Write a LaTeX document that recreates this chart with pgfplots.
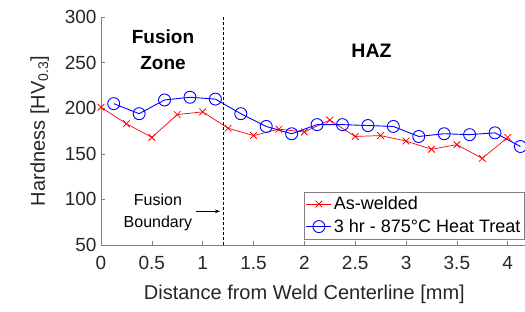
\documentclass[border=0pt]{standalone}
\usepackage{pgfplots}
\pgfplotsset{compat=1.18}
\usepackage{fontspec}
\setmainfont{Liberation Sans}
\usetikzlibrary{arrows.meta}
\definecolor{axgray}{RGB}{128,128,128}
\definecolor{txt}{RGB}{38,38,38}
\begin{document}
\begin{tikzpicture}
\begin{axis}[
  at={(0,0)}, anchor=origin,
  scale only axis,
  width=424pt, height=228pt,
  xmin=0, xmax=4.17, ymin=50, ymax=300,
  axis x line*=bottom, axis y line*=left,
  axis line style={axgray, line width=0.6pt, -},
  xtick={0,0.5,...,4}, ytick={50,100,...,300},
  xticklabels={0,0.5,1,1.5,2,2.5,3,3.5,4},
  tick align=inside, major tick length=4pt,
  tick style={axgray, line width=0.6pt},
  /pgf/number format/assume math mode=true,
  ticklabel style={font=\fontsize{19}{22}\selectfont, text=txt},
  xticklabel style={yshift=-8pt},
  yticklabel style={xshift=-1pt},
  xlabel={Distance from Weld Centerline [mm]},
  ylabel={Hardness [HV\textsubscript{0.3}]},
  every axis x label/.style={at={(axis cs:2.0,50)}, anchor=base, yshift=-54pt, font=\fontsize{20}{24}\selectfont, text=txt},
  every axis y label/.style={at={([xshift=-56pt]axis description cs:0,0.5)}, rotate=90, anchor=base, font=\fontsize{20}{24}\selectfont, text=txt},
  legend style={at={(rel axis cs:0.998,0.026)}, anchor=south east, draw=axgray, font=\fontsize{18}{21}\selectfont, text=black, inner xsep=1.5pt, inner ysep=3pt, row sep=4pt, cells={anchor=west}},
  legend cell align=left,
  legend image code/.code={\draw[mark repeat=2,mark phase=2,#1] plot coordinates {(0pt,0pt) (12.5pt,0pt) (25pt,0pt)};},
  clip=false,
]
\addplot[red, line width=0.7pt, mark=x, mark size=4.7pt, mark options={line width=0.8pt}] coordinates {
(0,201) (0.25,183) (0.5,168) (0.75,193) (1.0,196) (1.25,178) (1.5,170) (1.75,177) (2.0,174) (2.25,187) (2.5,169) (2.75,170) (3.0,164) (3.25,155) (3.5,160) (3.75,145) (4.0,168)
};
\addlegendentry{As-welded}
\addplot[blue, line width=0.9pt, mark=o, mark size=6pt, mark options={line width=0.9pt}] coordinates {
(0.125,205) (0.375,194) (0.625,209) (0.875,212) (1.125,210) (1.375,194) (1.625,180) (1.875,172) (2.125,182) (2.375,182) (2.625,181) (2.875,180) (3.125,169) (3.375,172) (3.625,171) (3.875,173) (4.125,158)
};
\addlegendentry{3 hr - 875\textdegree C Heat Treat}
\draw[black, dash pattern=on 3pt off 2pt, line width=0.8pt] (axis cs:1.2,50) -- (axis cs:1.2,300);
\node[font=\fontsize{19}{26}\selectfont\bfseries, align=center, text=black] at (axis cs:0.61,264) {Fusion\\Zone};
\node[font=\fontsize{19.5}{23}\selectfont\bfseries, text=black] at (axis cs:2.66,263) {HAZ};
\node[font=\fontsize{16}{22}\selectfont, align=center, text=black] at (axis cs:0.56,86) {Fusion\\Boundary};
\draw[-{Stealth[length=5pt]}, black, line width=0.6pt] (axis cs:0.93,87) -- (axis cs:1.17,87);
\end{axis}
\pgfresetboundingbox
\path[use as bounding box] (-101pt,-66pt) rectangle (424pt,245pt);
\end{tikzpicture}
\end{document}
